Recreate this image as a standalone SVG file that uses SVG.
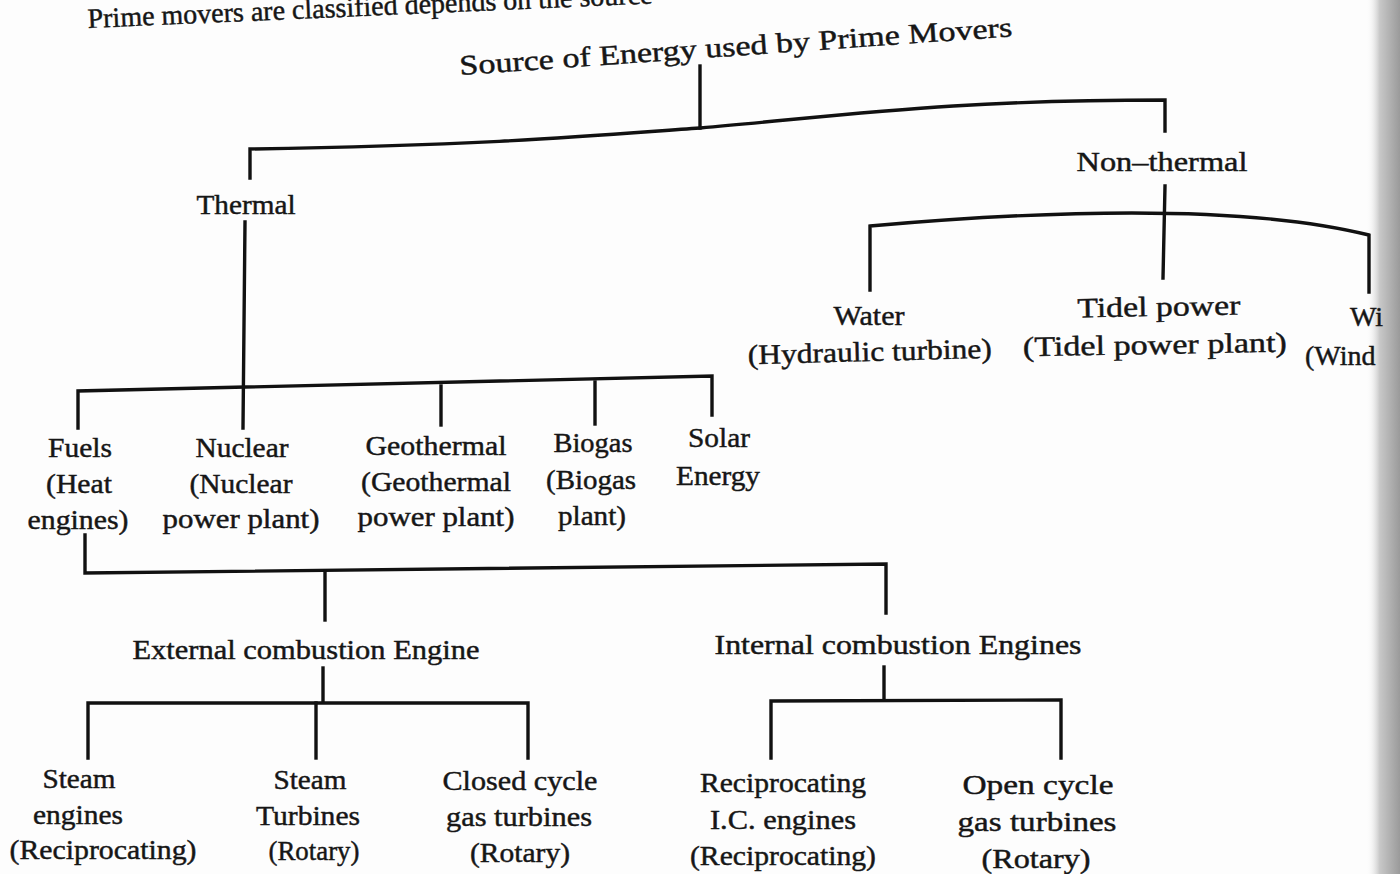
<svg xmlns="http://www.w3.org/2000/svg" width="1400" height="874" viewBox="0 0 1400 874">
<defs>
<style>
.t{font-family:"Liberation Serif","Times New Roman",serif;font-size:28px;fill:#161616;stroke:#161616;stroke-width:0.45;text-anchor:middle}
.s{text-anchor:start}
.c{fill:none;stroke:#111;stroke-width:3.4;stroke-linecap:square}
</style>
<linearGradient id="edge" x1="0" y1="0" x2="1" y2="0">
<stop offset="0" stop-color="#ffffff" stop-opacity="0"/>
<stop offset="0.4" stop-color="#c8c8c8"/>
<stop offset="1" stop-color="#9a9a9a"/>
</linearGradient>
</defs>
<rect width="1400" height="874" fill="#fdfdfd"/>
<rect x="1366" y="0" width="34" height="874" fill="url(#edge)"/>

<g id="intro">
<text class="t s" x="88" y="28" font-size="31" transform="rotate(-2.5 88 28)">Prime movers are classified depends on the source</text>
</g>

<g id="connectors">
<path class="c" d="M700,66 L700,128"/>
<path class="c" d="M250,178 L250,149 C500,145 600,135 700,128 C850,115 950,100 1165,100 L1165,131"/>
<path class="c" d="M1165,186 L1163,278"/>
<path class="c" d="M870,290 L870,226 Q1211,196 1369,235 L1369,292"/>
<path class="c" d="M245,222 L243,428"/>
<path class="c" d="M78,428 L78,391 L712,376 L712,415"/>
<path class="c" d="M441,386 L441,425"/>
<path class="c" d="M595,382 L595,424"/>
<path class="c" d="M85,535 L85,573 L886,564 L886,613"/>
<path class="c" d="M325,571 L325,620"/>
<path class="c" d="M323,668 L323,702"/>
<path class="c" d="M88,758 L88,703 L528,703 L528,758"/>
<path class="c" d="M316,703 L316,758"/>
<path class="c" d="M884,667 L884,700"/>
<path class="c" d="M771,758 L771,701 L1061,700 L1061,758"/>
</g>

<g id="root"><text class="t s" x="460" y="75" textLength="554" lengthAdjust="spacingAndGlyphs" transform="rotate(-4 460 75)">Source of Energy used by Prime Movers</text></g>

<g id="thermal"><text class="t" x="246" y="214" textLength="99" lengthAdjust="spacingAndGlyphs">Thermal</text></g>
<g id="nonthermal"><text class="t" x="1162" y="171" textLength="171" lengthAdjust="spacingAndGlyphs">Non–thermal</text></g>

<g id="water">
<text class="t" x="869" y="325" textLength="71" lengthAdjust="spacingAndGlyphs">Water</text>
<text class="t" x="870" y="361" textLength="244" lengthAdjust="spacingAndGlyphs" transform="rotate(-1.5 870 361)">(Hydraulic turbine)</text>
</g>
<g id="tidel">
<text class="t" x="1159" y="316" textLength="163" lengthAdjust="spacingAndGlyphs" transform="rotate(-1 1159 316)">Tidel power</text>
<text class="t" x="1155" y="354" textLength="264" lengthAdjust="spacingAndGlyphs" transform="rotate(-1 1155 354)">(Tidel power plant)</text>
</g>
<g id="wind">
<text class="t s" x="1350" y="326" font-size="20">Wi</text>
<text class="t s" x="1305" y="365" font-size="24">(Wind</text>
</g>

<g id="fuels">
<text class="t" x="80" y="457" textLength="64" lengthAdjust="spacingAndGlyphs">Fuels</text>
<text class="t" x="79" y="493" textLength="66" lengthAdjust="spacingAndGlyphs">(Heat</text>
<text class="t" x="78" y="529" textLength="101" lengthAdjust="spacingAndGlyphs">engines)</text>
</g>
<g id="nuclear">
<text class="t" x="242" y="457" textLength="93" lengthAdjust="spacingAndGlyphs">Nuclear</text>
<text class="t" x="241" y="493" textLength="103" lengthAdjust="spacingAndGlyphs">(Nuclear</text>
<text class="t" x="241" y="528" textLength="157" lengthAdjust="spacingAndGlyphs">power plant)</text>
</g>
<g id="geothermal">
<text class="t" x="436" y="455" textLength="141" lengthAdjust="spacingAndGlyphs">Geothermal</text>
<text class="t" x="436" y="491" textLength="150" lengthAdjust="spacingAndGlyphs">(Geothermal</text>
<text class="t" x="436" y="526" textLength="157" lengthAdjust="spacingAndGlyphs">power plant)</text>
</g>
<g id="biogas">
<text class="t" x="593" y="452" textLength="79" lengthAdjust="spacingAndGlyphs">Biogas</text>
<text class="t" x="591" y="489" textLength="90" lengthAdjust="spacingAndGlyphs">(Biogas</text>
<text class="t" x="592" y="525" textLength="68" lengthAdjust="spacingAndGlyphs">plant)</text>
</g>
<g id="solar">
<text class="t" x="719" y="447" textLength="62" lengthAdjust="spacingAndGlyphs">Solar</text>
<text class="t" x="718" y="485" textLength="84" lengthAdjust="spacingAndGlyphs">Energy</text>
</g>

<g id="external"><text class="t" x="306" y="659" textLength="347" lengthAdjust="spacingAndGlyphs">External combustion Engine</text></g>
<g id="internal"><text class="t" x="898" y="654" textLength="367" lengthAdjust="spacingAndGlyphs">Internal combustion Engines</text></g>

<g id="steam-engines">
<text class="t" x="79" y="788" textLength="73" lengthAdjust="spacingAndGlyphs">Steam</text>
<text class="t" x="78" y="824" textLength="90" lengthAdjust="spacingAndGlyphs">engines</text>
<text class="t" x="103" y="859" textLength="187" lengthAdjust="spacingAndGlyphs">(Reciprocating)</text>
</g>
<g id="steam-turbines">
<text class="t" x="310" y="789" textLength="73" lengthAdjust="spacingAndGlyphs">Steam</text>
<text class="t" x="308" y="825" textLength="104" lengthAdjust="spacingAndGlyphs">Turbines</text>
<text class="t" x="314" y="860" textLength="91" lengthAdjust="spacingAndGlyphs">(Rotary)</text>
</g>
<g id="closed-cycle">
<text class="t" x="520" y="790" textLength="155" lengthAdjust="spacingAndGlyphs">Closed cycle</text>
<text class="t" x="519" y="826" textLength="146" lengthAdjust="spacingAndGlyphs">gas turbines</text>
<text class="t" x="520" y="862" textLength="100" lengthAdjust="spacingAndGlyphs">(Rotary)</text>
</g>
<g id="recip-ic">
<text class="t" x="783" y="792" textLength="166" lengthAdjust="spacingAndGlyphs">Reciprocating</text>
<text class="t" x="783" y="829" textLength="146" lengthAdjust="spacingAndGlyphs">I.C. engines</text>
<text class="t" x="783" y="865" textLength="186" lengthAdjust="spacingAndGlyphs">(Reciprocating)</text>
</g>
<g id="open-cycle">
<text class="t" x="1038" y="794" textLength="151" lengthAdjust="spacingAndGlyphs">Open cycle</text>
<text class="t" x="1037" y="831" textLength="159" lengthAdjust="spacingAndGlyphs">gas turbines</text>
<text class="t" x="1036" y="868" textLength="109" lengthAdjust="spacingAndGlyphs">(Rotary)</text>
</g>
</svg>
